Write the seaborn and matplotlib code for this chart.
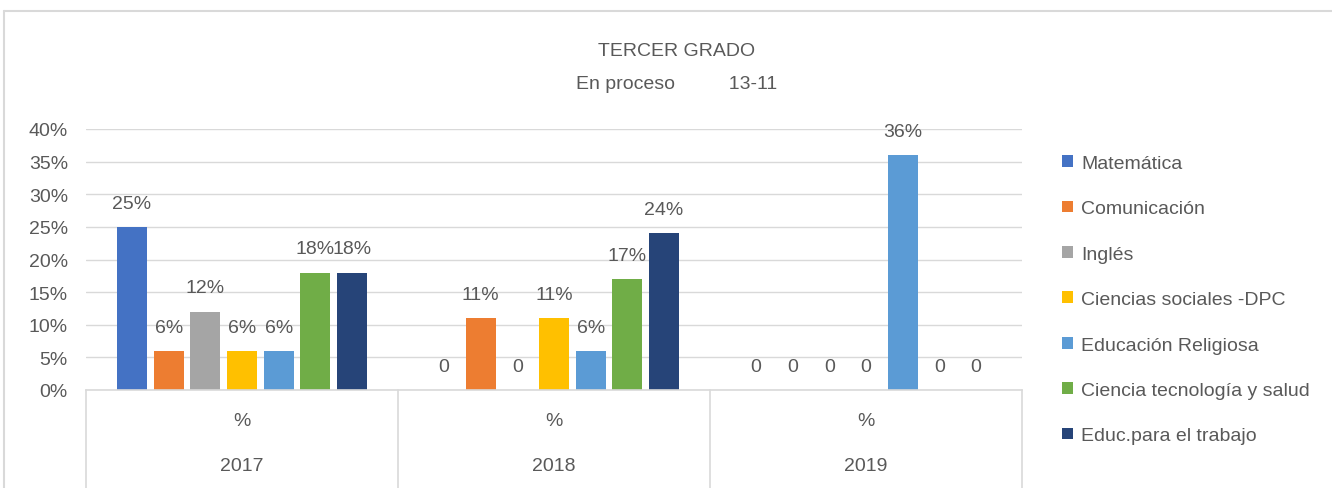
import pandas as pd
import numpy as np
import seaborn as sns
import matplotlib.pyplot as plt
from matplotlib.patches import Patch
from matplotlib.lines import Line2D

# data
years = ["2017", "2018", "2019"]
subjects = ["Matemática", "Comunicación", "Inglés", "Ciencias sociales -DPC",
            "Educación Religiosa", "Ciencia tecnología y salud", "Educ.para el trabajo"]
matematica = [25, 0, 0]
comunicacion = [6, 11, 0]
ingles = [12, 0, 0]
sociales = [6, 11, 0]
religiosa = [6, 6, 36]
ciencia = [18, 17, 0]
trabajo = [18, 24, 0]
colors = ["#4472C4", "#ED7D31", "#A5A5A5", "#FFC000", "#5B9BD5", "#70AD47", "#264478"]

series = [matematica, comunicacion, ingles, sociales, religiosa, ciencia, trabajo]
rows = []
for name, vals in zip(subjects, series):
    for yr, v in zip(years, vals):
        rows.append({"year": yr, "subject": name, "value": v})
df = pd.DataFrame(rows)

sns.set_style("white")
plt.rcParams["font.family"] = ["Liberation Sans", "DejaVu Sans"]
txt = "#595959"
fs = 14

fig = plt.figure(figsize=(13.32, 4.89), dpi=100)
ax = fig.add_axes([86 / 1332, 1 - 391 / 489, (1022 - 86) / 1332, (391 - 130) / 489])

sns.barplot(data=df, x="year", y="value", hue="subject", hue_order=subjects,
            order=years, palette=colors, width=0.823, gap=0.18, ax=ax,
            legend=False, saturation=1, linewidth=0)

for cont, vals in zip(ax.containers, series):
    labels = [f"{v}%" if v else "0" for v in vals]
    ax.bar_label(cont, labels=labels, padding=11, fontsize=fs, color=txt)

ax.set_ylim(0, 40)
ax.set_xlim(-0.5, 2.5)
ax.set_yticks(np.arange(0, 41, 5))
ax.set_yticklabels([f"{t}%" for t in range(0, 41, 5)])
ax.tick_params(axis="y", length=0, pad=13, labelsize=fs, labelcolor=txt)
ax.yaxis.grid(True, color="#d9d9d9", linewidth=1)
ax.set_axisbelow(True)
for s in ["left", "right", "top"]:
    ax.spines[s].set_visible(False)
ax.spines["bottom"].set_color("#d9d9d9")
ax.spines["bottom"].set_linewidth(1.2)

# two level category axis
ax.set_xticks([])
ax.set_xlabel("")
ax.set_ylabel("")
for i, yr in enumerate(years):
    ax.text(i, -0.115, "%", transform=ax.get_xaxis_transform(), ha="center",
            va="center", fontsize=fs, color=txt)
    ax.text(i, -0.29, yr, transform=ax.get_xaxis_transform(), ha="center",
            va="center", fontsize=fs, color=txt)
for xb in [-0.5, 0.5, 1.5, 2.5]:
    ax.plot([xb, xb], [0, -0.38], transform=ax.get_xaxis_transform(),
            color="#d9d9d9", linewidth=1.2, clip_on=False)

# titles
fig.text(677 / 1332, 1 - 52 / 489, "TERCER GRADO", ha="center", va="center",
         fontsize=fs, color=txt)
fig.text(677 / 1332, 1 - 85 / 489, "En proceso          13-11", ha="center",
         va="center", fontsize=fs, color=txt)

# legend
handles = [Patch(facecolor=c, edgecolor="none") for c in colors]
fig.legend(handles, subjects, loc="upper left",
           bbox_to_anchor=(1062 / 1332, 1 - 156 / 489), frameon=False,
           fontsize=fs, labelcolor=txt, borderpad=0, borderaxespad=0,
           labelspacing=1.46, handlelength=0.55, handleheight=0.55,
           handletextpad=0.45)

# outer chart border (cropped)
fig.add_artist(Line2D([4 / 1332, 1], [1 - 12 / 489, 1 - 12 / 489], color="#d9d9d9", linewidth=1.5))
fig.add_artist(Line2D([4 / 1332, 4 / 1332], [0, 1 - 12 / 489], color="#d9d9d9", linewidth=1.5))

fig.savefig("out.png", dpi=100)
